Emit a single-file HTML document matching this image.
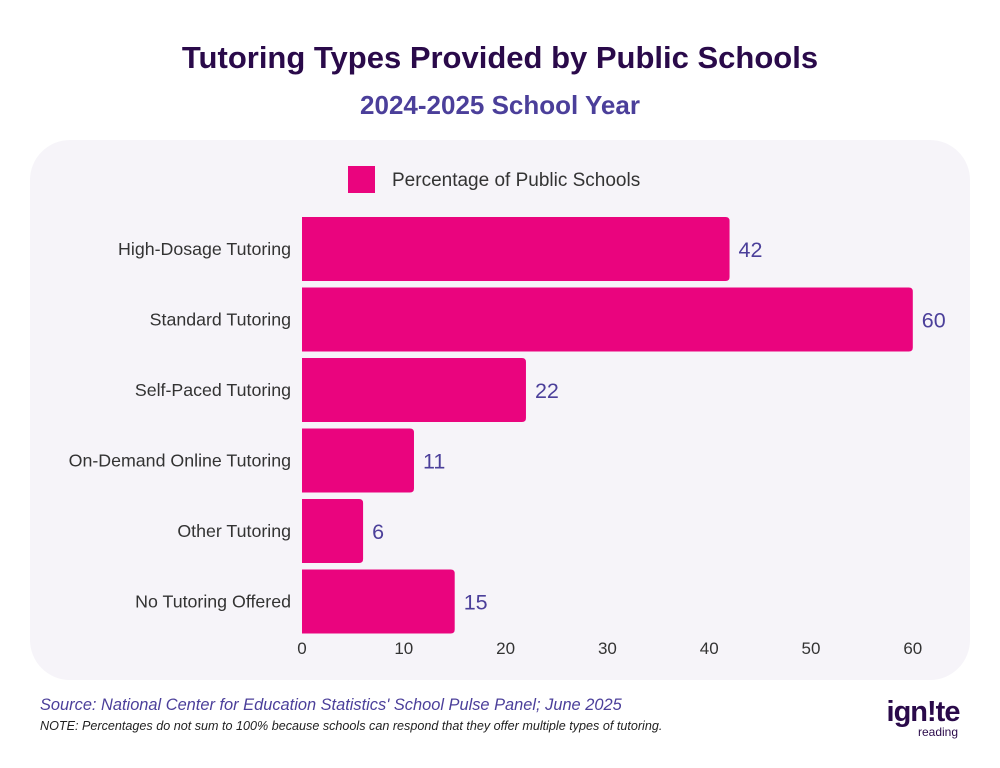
<!DOCTYPE html>
<html><head><meta charset="utf-8"><style>
body{margin:0;width:1000px;height:768px;background:#fff;font-family:"Liberation Sans",sans-serif;position:relative;overflow:hidden}
.t{position:absolute;left:0;width:1000px;text-align:center;font-weight:bold}
</style></head><body>
<div class="t" style="top:40px;font-size:31px;color:#2a0a4a">Tutoring Types Provided by Public Schools</div>
<div class="t" style="top:90px;font-size:26px;color:#4b3f9a">2024-2025 School Year</div>
<svg width="1000" height="768" style="position:absolute;left:0;top:0">
<rect x="30" y="140" width="940" height="540" rx="40" fill="#f6f4f9"/>
<rect x="348" y="166" width="27" height="27" fill="#ea047e"/>
<text x="392" y="186" font-size="19" fill="#333" font-family="Liberation Sans">Percentage of Public Schools</text>
<g id="g"></g>
</svg>
<div style="position:absolute;left:40px;top:696px;font-size:16.4px;font-style:italic;color:#4b3f9a">Source: National Center for Education Statistics' School Pulse Panel; June 2025</div>
<div style="position:absolute;left:40px;top:719px;font-size:12.6px;font-style:italic;color:#222">NOTE: Percentages do not sum to 100% because schools can respond that they offer multiple types of tutoring.</div>
<div style="position:absolute;left:878px;top:698px;width:90px;text-align:center;position:absolute">
<div style="font-size:29px;font-weight:bold;color:#2a0a4a;line-height:28px;letter-spacing:-1px">ign!te</div>
<div style="font-size:12px;color:#2a0a4a;margin-left:30px;line-height:12px">reading</div></div>
<script>
const categories=["High-Dosage Tutoring","Standard Tutoring","Self-Paced Tutoring","On-Demand Online Tutoring","Other Tutoring","No Tutoring Offered"];
const values=[42,60,22,11,6,15];
const ticks=[0,10,20,30,40,50,60];
const NS="http://www.w3.org/2000/svg",g=document.getElementById('g');
const x=v=>302+v*10.18;
const yc=i=>249+i*70.5;
function mk(t,a,txt){const e=document.createElementNS(NS,t);for(const k in a)e.setAttribute(k,a[k]);if(txt!==undefined)e.textContent=txt;g.appendChild(e);return e;}
categories.forEach((c,i)=>{
 const w=x(values[i])-x(0),y=yc(i)-32,r=4;
 const p=mk('path',{d:`M${x(0)},${y}H${x(0)+w-r}Q${x(0)+w},${y} ${x(0)+w},${y+r}V${y+64-r}Q${x(0)+w},${y+64} ${x(0)+w-r},${y+64}H${x(0)}Z`,fill:'#ea047e'});
 
 
 const l=mk('text',{x:291,y:yc(i)+6,'text-anchor':'end','font-size':17.8,fill:'#333','font-family':'Liberation Sans'},c);
 
 
 const v=mk('text',{x:x(values[i])+9,y:yc(i)+8,'font-size':21.5,fill:'#4b3f9a','font-family':'Liberation Sans'},values[i]);
 
 
});
ticks.forEach(t=>{
 const e=mk('text',{x:x(t),y:654,'text-anchor':'middle','font-size':17,fill:'#333','font-family':'Liberation Sans'},t);
 
 
});
</script>
</body></html>
